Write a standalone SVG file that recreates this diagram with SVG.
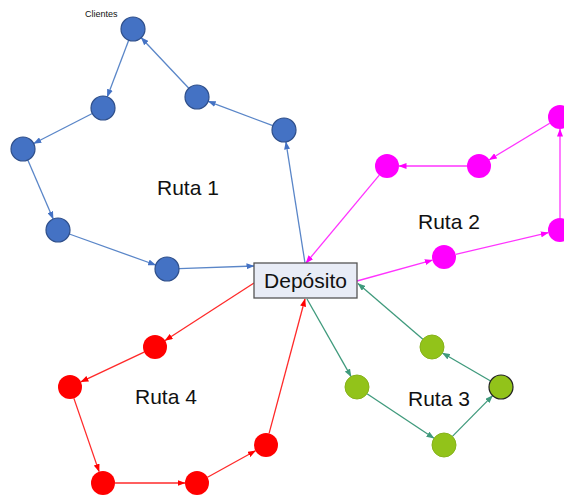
<svg xmlns="http://www.w3.org/2000/svg" width="564" height="498" viewBox="0 0 564 498">
<style>
.lbl{font-family:"Liberation Sans",Arial,sans-serif;fill:#111}
.b{fill:#4472C4;stroke:#2F4F8A;stroke-width:1.2}
.m{fill:#FF00FF;stroke:none}
.g{fill:#92C31A;stroke:#86B21A;stroke-width:1}
.r{fill:#FF0000;stroke:none}
.eb{stroke:#5A86C8;stroke-width:1.3;fill:none;marker-end:url(#ab)}
.em{stroke:#FF33FF;stroke-width:1.3;fill:none;marker-end:url(#am)}
.eg{stroke:#3F9A7C;stroke-width:1.3;fill:none;marker-end:url(#ag)}
.er{stroke:#FF2A2A;stroke-width:1.3;fill:none;marker-end:url(#ar)}
</style>
<defs>
<marker id="ab" markerWidth="8" markerHeight="6" refX="7.5" refY="3" orient="auto" markerUnits="userSpaceOnUse"><path d="M0,0 L8,3 L0,6 z" fill="#4472C4"/></marker>
<marker id="am" markerWidth="8" markerHeight="6" refX="7.5" refY="3" orient="auto" markerUnits="userSpaceOnUse"><path d="M0,0 L8,3 L0,6 z" fill="#FF00FF"/></marker>
<marker id="ag" markerWidth="8" markerHeight="6" refX="7.5" refY="3" orient="auto" markerUnits="userSpaceOnUse"><path d="M0,0 L8,3 L0,6 z" fill="#3F9A7C"/></marker>
<marker id="ar" markerWidth="8" markerHeight="6" refX="7.5" refY="3" orient="auto" markerUnits="userSpaceOnUse"><path d="M0,0 L8,3 L0,6 z" fill="#FF0000"/></marker>
</defs>
<rect width="564" height="498" fill="#fff"/>
<g id="connectors">
<line class="eb" x1="305" y1="263" x2="285.9" y2="141.9"/>
<line class="eb" x1="272.8" y1="125.7" x2="208.2" y2="101.3"/>
<line class="eb" x1="188.8" y1="88.3" x2="141.2" y2="37.7"/>
<line class="eb" x1="128.7" y1="40.2" x2="107.3" y2="96.8"/>
<line class="eb" x1="92.3" y1="113.5" x2="33.7" y2="143.5"/>
<line class="eb" x1="27.8" y1="160" x2="53.2" y2="219"/>
<line class="eb" x1="69.3" y1="234" x2="155.7" y2="265"/>
<line class="eb" x1="179" y1="268.6" x2="254" y2="266"/>
<line class="em" x1="357" y1="281" x2="432.4" y2="260.2"/>
<line class="em" x1="455.7" y1="254.3" x2="548.3" y2="232.7"/>
<line class="em" x1="560" y1="218" x2="560" y2="129"/>
<line class="em" x1="549.7" y1="123.2" x2="489.3" y2="159.8"/>
<line class="em" x1="467" y1="166" x2="399" y2="166"/>
<line class="em" x1="379.3" y1="175.2" x2="306" y2="263"/>
<line class="eg" x1="307" y1="299" x2="351.1" y2="376.6"/>
<line class="eg" x1="367" y1="393.7" x2="434" y2="438.3"/>
<line class="eg" x1="452.4" y1="436.4" x2="492.6" y2="395.6"/>
<line class="eg" x1="490.6" y1="381" x2="442.4" y2="353"/>
<line class="eg" x1="422.9" y1="339.2" x2="358" y2="283.5"/>
<line class="er" x1="254" y1="283" x2="165.1" y2="340.5"/>
<line class="er" x1="144.1" y1="352.1" x2="80.9" y2="381.9"/>
<line class="er" x1="73.9" y1="398.4" x2="99.1" y2="471.6"/>
<line class="er" x1="115" y1="483" x2="185" y2="483"/>
<line class="er" x1="207.5" y1="477.2" x2="255.5" y2="450.8"/>
<line class="er" x1="269.1" y1="433.4" x2="305" y2="299"/>
</g>
<g id="deposito">
<rect x="254" y="263" width="103" height="35" fill="#E8ECF6" stroke="#555" stroke-width="1.3"/>
<text class="lbl" x="305.5" y="288" font-size="21" text-anchor="middle">Depósito</text>
</g>
<g id="b1"><circle class="b" cx="133" cy="29" r="12"/></g>
<g id="b2"><circle class="b" cx="103" cy="108" r="12"/></g>
<g id="b3"><circle class="b" cx="23" cy="149" r="12"/></g>
<g id="b4"><circle class="b" cx="58" cy="230" r="12"/></g>
<g id="b5"><circle class="b" cx="167" cy="269" r="12"/></g>
<g id="b6"><circle class="b" cx="197" cy="97" r="12"/></g>
<g id="b7"><circle class="b" cx="284" cy="130" r="12"/></g>
<g id="m1"><circle class="m" cx="387" cy="166" r="12"/></g>
<g id="m2"><circle class="m" cx="479" cy="166" r="12"/></g>
<g id="m3"><circle class="m" cx="560" cy="117" r="12"/></g>
<g id="m4"><circle class="m" cx="560" cy="230" r="12"/></g>
<g id="m5"><circle class="m" cx="444" cy="257" r="12"/></g>
<g id="g1"><circle class="g" cx="357" cy="387" r="12"/></g>
<g id="g2"><circle class="g" cx="444" cy="445" r="12"/></g>
<g id="g3"><circle class="g" cx="501" cy="387" r="12" style="stroke:#222;stroke-width:1.2"/></g>
<g id="g4"><circle class="g" cx="432" cy="347" r="12"/></g>
<g id="r1"><circle class="r" cx="155" cy="347" r="12"/></g>
<g id="r2"><circle class="r" cx="70" cy="387" r="12"/></g>
<g id="r3"><circle class="r" cx="103" cy="483" r="12"/></g>
<g id="r4"><circle class="r" cx="197" cy="483" r="12"/></g>
<g id="r5"><circle class="r" cx="266" cy="445" r="12"/></g>
<g id="labels">
<text class="lbl" x="85" y="17" font-size="9">Clientes</text>
<text class="lbl" x="157" y="195" font-size="21">Ruta 1</text>
<text class="lbl" x="418" y="229" font-size="21">Ruta 2</text>
<text class="lbl" x="408" y="406" font-size="21">Ruta 3</text>
<text class="lbl" x="135" y="404" font-size="21">Ruta 4</text>
</g>
</svg>
